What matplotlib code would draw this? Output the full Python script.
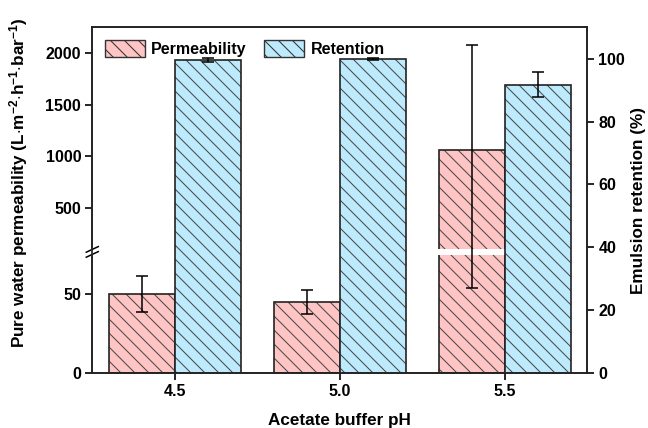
import numpy as np
import matplotlib
matplotlib.use("Agg")
import matplotlib.pyplot as plt
from matplotlib.patches import Patch, Rectangle
from matplotlib.lines import Line2D

DPI = 84
S = 100.0 / DPI  # keeps visual sizes equal to a 100-dpi layout

plt.rcParams['font.family'] = ['Liberation Sans', 'DejaVu Sans']
plt.rcParams['font.weight'] = 'bold'
plt.rcParams['mathtext.fontset'] = 'custom'
plt.rcParams['mathtext.rm'] = 'Liberation Sans:bold'
plt.rcParams['mathtext.bf'] = 'Liberation Sans:bold'
plt.rcParams['mathtext.default'] = 'rm'
plt.rcParams['hatch.linewidth'] = 0.75 * S

# ---- data ----
ph_labels = ['4.5', '5.0', '5.5']
perm = [50, 45, 1064]
perm_err = [11.5, 7.4, 1010]
retention = [99.6, 99.8, 91.7]
retention_err = [0.7, 0.3, 4.0]

# ---- broken (piecewise linear) left scale ----
BREAK = 76.9
K1 = 1.574
K2 = 0.1033
YMAX = 2250

def fwd(v):
    v = np.asarray(v, float)
    return np.where(v <= BREAK, v * K1, BREAK * K1 + (v - BREAK) * K2)

def inv(p):
    p = np.asarray(p, float)
    pb = BREAK * K1
    return np.where(p <= pb, p / K1, BREAK + (p - pb) / K2)

pink = '#FFC4C4'
blue = '#BDEBFD'
hatch_col = '#4a4a4a'
edge_col = '#222222'

fig = plt.figure(figsize=(648 / DPI, 428 / DPI), dpi=DPI)
ax = fig.add_axes([0.1424, 0.1285, 0.7639, 0.8077])
ax2 = ax.twinx()

x = np.arange(len(ph_labels))
w = 0.4

ax.set_yscale('function', functions=(fwd, inv))
ax.set_ylim(0, YMAX)
ax.set_xlim(-0.5, 2.5)

LW = 1.2 * S
# permeability bars
ax.bar(x - w / 2, perm, w, color=pink, edgecolor=hatch_col, hatch='\\\\', linewidth=0, zorder=2)
ax.bar(x - w / 2, perm, w, fill=False, edgecolor=edge_col, linewidth=LW, zorder=3)

# white break band on tall bar
pb = float(fwd(BREAK))
lo, hi = float(inv(pb - 3)), float(inv(pb + 3))
for i, v in enumerate(perm):
    if v > BREAK:
        ax.add_patch(Rectangle((x[i] - w - 0.01, lo), w + 0.01, hi - lo,
                               facecolor='white', edgecolor='none', zorder=4))

ax.errorbar(x - w / 2, perm, yerr=perm_err, fmt='none', ecolor='black',
            elinewidth=1.1 * S, capsize=4 * S, capthick=1.1 * S, zorder=5)

# retention bars
ax2.set_ylim(0, 110)
ax2.bar(x + w / 2, retention, w, color=blue, edgecolor=hatch_col, hatch='\\\\', linewidth=0, zorder=2)
ax2.bar(x + w / 2, retention, w, fill=False, edgecolor=edge_col, linewidth=LW, zorder=3)
ax2.errorbar(x + w / 2, retention, yerr=retention_err, fmt='none', ecolor='black',
             elinewidth=1.1 * S, capsize=4 * S, capthick=1.1 * S, zorder=5)

# ticks
ax.set_xticks(x)
ax.set_xticklabels(ph_labels)
ax.set_yticks([0, 50, 500, 1000, 1500, 2000])
ax.set_yticklabels(['0', '50', '500', '1000', '1500', '2000'])
ax.minorticks_off()
ax2.set_yticks([0, 20, 40, 60, 80, 100])
for a in (ax, ax2):
    a.tick_params(direction='out', length=5 * S, width=LW, labelsize=11.5 * S, pad=3 * S)
    for s in a.spines.values():
        s.set_linewidth(LW)
        s.set_color('#222222')

FS = 12.3 * S
ax.set_xlabel('Acetate buffer pH', fontsize=FS, fontweight='bold', labelpad=10 * S)
ax.set_ylabel('Pure water permeability (L$\\cdot$m$^{-2}$$\\cdot$h$^{-1}$$\\cdot$bar$^{-1}$)',
              fontsize=FS, fontweight='bold')
ax.yaxis.set_label_coords(-0.125, 0.55)
ax2.set_ylabel('Emulsion retention (%)', fontsize=FS, fontweight='bold', labelpad=4 * S)

# break marks on left spine
yb = pb / float(fwd(YMAX))
dx = 6 / 495.0
dy = 2.8 / 345.7
gap = 2.5 / 345.7
ax.add_line(Line2D([-0.004, 0.004], [yb - gap, yb + gap], transform=ax.transAxes,
                   color='white', linewidth=3 * S, clip_on=False, zorder=10))
for off in (-gap, gap):
    ax.add_line(Line2D([-dx, dx], [yb + off - dy, yb + off + dy], transform=ax.transAxes,
                       color='black', linewidth=1.1 * S, clip_on=False, zorder=11))

# legend
handles = [Patch(facecolor=pink, edgecolor='#333333', hatch='\\\\', linewidth=1.0 * S),
           Patch(facecolor=blue, edgecolor='#333333', hatch='\\\\', linewidth=1.0 * S)]
leg = ax2.legend(handles, ['Permeability', 'Retention'], loc='upper left', ncol=2,
                 frameon=False, fontsize=11.5 * S, bbox_to_anchor=(0.0, 1.0),
                 handlelength=2.5, handleheight=1.25, handletextpad=0.4,
                 columnspacing=1.1, borderaxespad=0.4)
for t in leg.get_texts():
    t.set_fontweight('bold')

fig.savefig('out.png', dpi=DPI)
